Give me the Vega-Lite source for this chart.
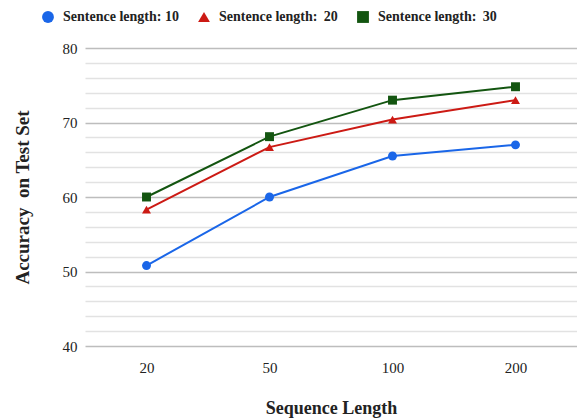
{
  "$schema": "https://vega.github.io/schema/vega-lite/v6.json",
  "width": 492,
  "height": 298,
  "autosize": "none",
  "padding": {"left": 85, "top": 48, "right": 0, "bottom": 73},
  "background": "white",
  "config": {
    "font": "Liberation Serif",
    "view": {"stroke": null},
    "axis": {"labelFont": "Liberation Serif", "titleFont": "Liberation Serif"},
    "legend": {"labelFont": "Liberation Serif"}
  },
  "data": {
    "values": [
      {"series": "Sentence length: 10", "seq": "20", "acc": 50.8},
      {"series": "Sentence length: 10", "seq": "50", "acc": 60.0},
      {"series": "Sentence length: 10", "seq": "100", "acc": 65.5},
      {"series": "Sentence length: 10", "seq": "200", "acc": 67.0},
      {"series": "Sentence length:\u2009 20", "seq": "20", "acc": 58.3},
      {"series": "Sentence length:\u2009 20", "seq": "50", "acc": 66.7},
      {"series": "Sentence length:\u2009 20", "seq": "100", "acc": 70.4},
      {"series": "Sentence length:\u2009 20", "seq": "200", "acc": 73.0},
      {"series": "Sentence length:\u2009 30", "seq": "20", "acc": 60.0},
      {"series": "Sentence length:\u2009 30", "seq": "50", "acc": 68.1},
      {"series": "Sentence length:\u2009 30", "seq": "100", "acc": 73.0},
      {"series": "Sentence length:\u2009 30", "seq": "200", "acc": 74.8}
    ]
  },
  "encoding": {
    "x": {
      "field": "seq", "type": "ordinal", "sort": ["20", "50", "100", "200"],
      "scale": {"type": "point", "padding": 0.5},
      "axis": {"title": "Sequence Length", "labelAngle": 0, "domain": false, "ticks": false, "grid": false,
               "labelFont": "Liberation Serif", "titleFont": "Liberation Serif",
               "labelFontSize": 15, "labelColor": "#222", "labelPadding": 14,
               "titleFontSize": 18, "titleFontWeight": "bold", "titleColor": "#222", "titlePadding": 24}
    },
    "color": {
      "field": "series", "type": "nominal",
      "scale": {"domain": ["Sentence length: 10", "Sentence length:\u2009 20", "Sentence length:\u2009 30"],
                "range": ["#1a66e8", "#cc1a14", "#135510"]},
      "legend": {"orient": "none", "legendX": -44, "legendY": -38, "direction": "horizontal", "title": null,
                 "labelFont": "Liberation Serif",
                 "labelFontSize": 14, "labelFontWeight": "bold", "labelColor": "#222", "symbolSize": 140,
                 "symbolOpacity": 1, "columnPadding": 18, "labelOffset": 8, "symbolStrokeWidth": 0}
    },
    "shape": {
      "field": "series", "type": "nominal",
      "scale": {"domain": ["Sentence length: 10", "Sentence length:\u2009 20", "Sentence length:\u2009 30"],
                "range": ["circle", "triangle-up", "square"]}
    }
  },
  "layer": [
    {
      "mark": {"type": "line", "strokeWidth": 2},
      "encoding": {
        "y": {"field": "acc", "type": "quantitative", "scale": {"domain": [40, 80], "nice": false, "zero": false},
              "axis": {"orient": "left", "values": [42, 44, 46, 48, 52, 54, 56, 58, 62, 64, 66, 68, 72, 74, 76, 78],
                       "grid": true, "labels": false, "ticks": false, "domain": false, "title": null,
                       "gridColor": "#e2e2e2", "gridWidth": 1.5}}
      }
    },
    {
      "mark": {"type": "point", "filled": true, "opacity": 1, "size": 80},
      "encoding": {
        "y": {"field": "acc", "type": "quantitative",
              "axis": {"orient": "left", "values": [40, 50, 60, 70, 80], "grid": true, "ticks": false, "domain": false,
                       "title": "Accuracy\u00a0 on Test Set", "gridColor": "#bdbdbd", "gridWidth": 1.5,
                       "labelFont": "Liberation Serif", "titleFont": "Liberation Serif",
                       "labelFontSize": 15, "labelColor": "#222", "labelPadding": 8,
                       "titleFontSize": 19, "titleFontWeight": "bold", "titleColor": "#222", "titlePadding": 30}}
      }
    }
  ],
  "resolve": {"axis": {"y": "independent"}}
}
